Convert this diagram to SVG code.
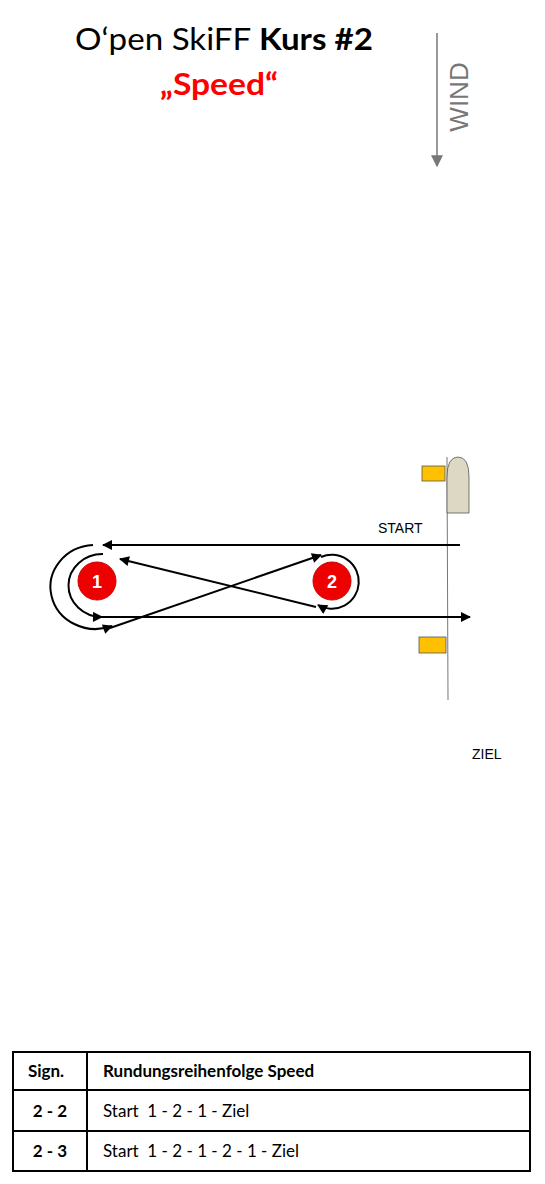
<svg xmlns="http://www.w3.org/2000/svg" width="545" height="1184" viewBox="0 0 545 1184">
<style>
.ti{font-family:Lato,"Open Sans",sans-serif;font-size:31px;fill:#000}
.lbl{font-family:"Liberation Sans",Arial,sans-serif;font-size:14px;fill:#000}
.ln{stroke:#000;stroke-width:2;fill:none}
.tb{font-family:Lato,"Open Sans",sans-serif;font-size:17px;fill:#000;white-space:pre}
.mk{fill:#e00;stroke:#c00;stroke-width:1}
.mt{font-family:"Liberation Sans",Arial,sans-serif;font-size:18px;font-weight:bold;fill:#fff;text-anchor:middle}
</style>
<defs>
<marker id="ahb" viewBox="0 0 10 10" refX="9" refY="5" markerWidth="12" markerHeight="10" markerUnits="userSpaceOnUse" orient="auto"><path d="M0,0 L10,5 L0,10 z" fill="#000"/></marker>
<marker id="ag" viewBox="0 0 10 10" refX="9" refY="5" markerWidth="12" markerHeight="12" markerUnits="userSpaceOnUse" orient="auto"><path d="M0,0 L10,5 L0,10 z" fill="#777"/></marker>
</defs>
<rect width="545" height="1184" fill="#fff"/>
<g id="title">
<text class="ti" x="75" y="50" textLength="298" lengthAdjust="spacingAndGlyphs">O‘pen SkiFF <tspan font-weight="bold">Kurs #2</tspan></text>
<text class="ti" x="160" y="95" font-weight="bold" style="fill:#f00" textLength="118" lengthAdjust="spacingAndGlyphs">„Speed“</text>
</g>
<g id="wind">
<line x1="437" y1="33" x2="437" y2="166" stroke="#777" stroke-width="1.5" marker-end="url(#ag)"/>
<text transform="translate(468,97) rotate(-90)" text-anchor="middle" font-family="Liberation Sans,Arial,sans-serif" font-size="26" fill="#777">WIND</text>
</g>
<g id="startline">
<line x1="447" y1="457" x2="448" y2="700" stroke="#777" stroke-width="1"/>
<rect x="422" y="466" width="23" height="15" fill="#ffc000" stroke="#555" stroke-width="0.8"/>
<path d="M447,513 L447,477 Q447,457 458,457 Q469,457 469,477 L469,513 Z" fill="#ddd8c4" stroke="#555" stroke-width="0.8"/>
<rect x="419" y="637" width="27" height="16" fill="#ffc000" stroke="#555" stroke-width="0.8"/>
<text class="lbl" x="378" y="533">START</text>
<text class="lbl" x="472" y="759">ZIEL</text>
</g>
<g id="mark1">
<circle class="mk" cx="97" cy="581" r="19"/>
<text class="mt" x="97" y="588">1</text>
</g>
<g id="mark2">
<circle class="mk" cx="332" cy="581" r="19"/>
<text class="mt" x="332" y="588">2</text>
</g>
<g id="connectors">
<line class="ln" x1="460" y1="545" x2="103" y2="545" marker-end="url(#ahb)"/>
<path class="ln" d="M93,545 A45,42 0 1 0 112,626" marker-end="url(#ahb)"/>
<line class="ln" x1="110" y1="628" x2="321" y2="555" marker-end="url(#ahb)"/>
<path class="ln" d="M321,557 A27,27 0 1 1 318,605" marker-end="url(#ahb)"/>
<line class="ln" x1="316" y1="607" x2="120" y2="559" marker-end="url(#ahb)"/>
<path class="ln" d="M103,554 A34,31.5 0 1 0 102,617" marker-end="url(#ahb)"/>
<line class="ln" x1="102" y1="617" x2="470" y2="617" marker-end="url(#ahb)"/>
</g>
<g id="table">
<rect x="13" y="1052" width="517" height="119" fill="none" stroke="#000" stroke-width="2"/>
<line x1="13" y1="1090" x2="530" y2="1090" stroke="#000" stroke-width="2"/>
<line x1="13" y1="1131" x2="530" y2="1131" stroke="#000" stroke-width="2"/>
<line x1="87" y1="1052" x2="87" y2="1171" stroke="#000" stroke-width="2"/>
<text class="tb" x="46" y="1077" text-anchor="middle" font-weight="bold" font-size="15.5">Sign.</text>
<text class="tb" x="103" y="1077" font-weight="bold" font-size="15.5">Rundungsreihenfolge Speed</text>
<text class="tb" x="50" y="1117" text-anchor="middle" font-weight="bold">2 - 2</text>
<text class="tb" x="103" y="1117" xml:space="preserve">Start  1 - 2 - 1 - Ziel</text>
<text class="tb" x="50" y="1157" text-anchor="middle" font-weight="bold">2 - 3</text>
<text class="tb" x="103" y="1157" xml:space="preserve">Start  1 - 2 - 1 - 2 - 1 - Ziel</text>
</g>
</svg>
